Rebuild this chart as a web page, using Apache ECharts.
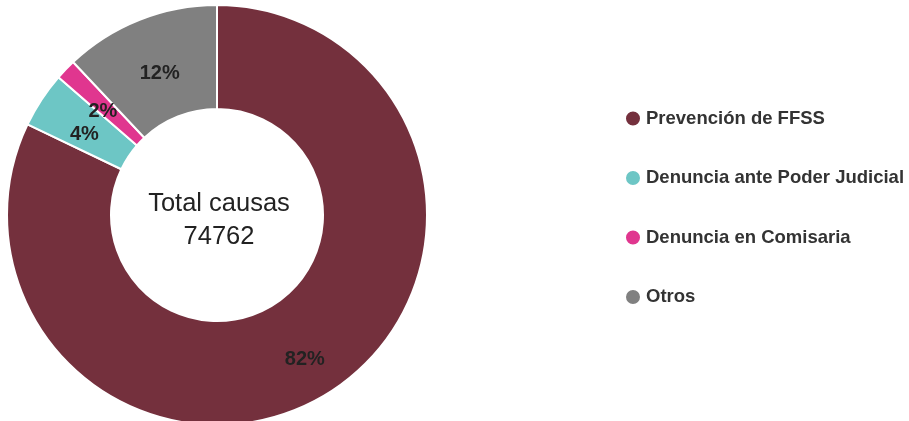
<!DOCTYPE html>
<html>
<head>
<meta charset="utf-8">
<script src="https://cdn.jsdelivr.net/npm/echarts@6/dist/echarts.min.js"></script>
<style>
  html, body { margin: 0; padding: 0; background: #fff; }
  #chart { width: 909px; height: 421px; }
</style>
</head>
<body>
<div id="chart"></div>
<script>
// categorias y cantidades (estimadas a partir de los porcentajes)
const categories = ['Prevención de FFSS', 'Denuncia ante Poder Judicial', 'Denuncia en Comisaria', 'Otros'];
const counts = [61380, 3200, 1200, 8982];
const colors = ['#74303d', '#6dc6c5', '#e0368f', '#808080'];
const totalLabel = 'Total causas';
const total = counts.reduce((a, b) => a + b, 0);

const chart = echarts.init(document.getElementById('chart'));

const option = {
  animation: false,
  color: colors,
  legend: {
    orient: 'vertical',
    left: 619,
    top: 104,
    itemGap: 40.5,
    itemWidth: 16,
    itemHeight: 16,
    icon: 'circle',
    textStyle: {
      fontFamily: 'Liberation Sans, Arial, sans-serif',
      fontSize: 18.5,
      lineHeight: 18,
      fontWeight: 'bold',
      color: '#333'
    },
    data: categories
  },
  graphic: [{
    type: 'text',
    x: 219,
    y: 220,
    style: {
      text: totalLabel + '\n' + total,
      textAlign: 'center',
      textVerticalAlign: 'middle',
      fontFamily: 'Liberation Sans, Arial, sans-serif',
      fontSize: 25.5,
      lineHeight: 33,
      fill: '#222'
    }
  }],
  series: [{
    type: 'pie',
    center: [217, 215],
    radius: [106, 210],
    startAngle: 90,
    clockwise: true,
    itemStyle: {
      borderColor: '#fff',
      borderWidth: 2
    },
    label: {
      show: true,
      position: 'inside',
      offset: [2, 8],
      formatter: p => Math.round(p.percent) + '%',
      fontFamily: 'Liberation Sans, Arial, sans-serif',
      fontSize: 20,
      fontWeight: 'bold',
      color: '#222'
    },
    labelLine: { show: false },
    data: categories.map((name, i) => ({ name: name, value: counts[i] }))
  }]
};

chart.setOption(option);
</script>
</body>
</html>
